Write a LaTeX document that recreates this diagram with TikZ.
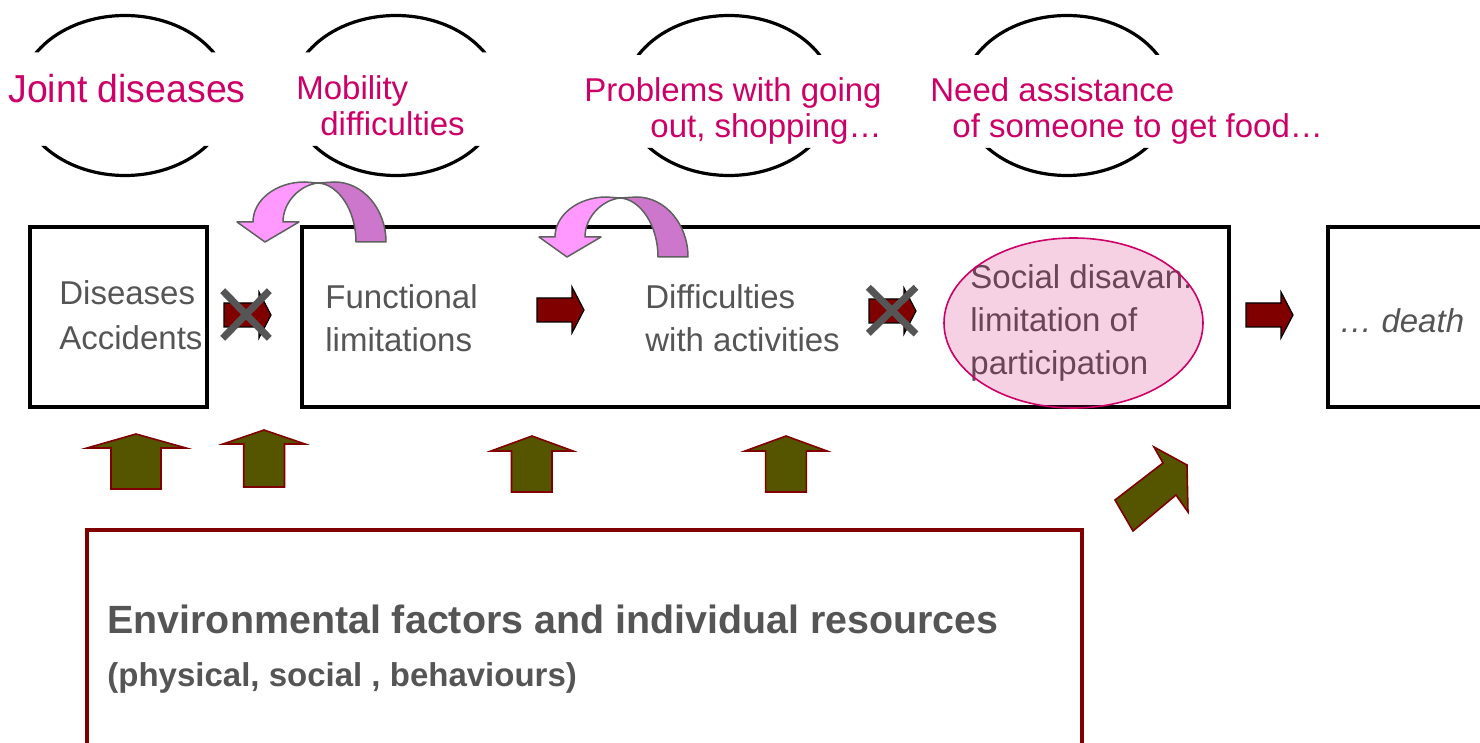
\documentclass[tikz,border=0pt]{standalone}
\usepackage{fontspec}
\setmainfont{Liberation Sans}
\newfontfamily\jointfont[FakeStretch=0.96]{Liberation Sans}
\definecolor{mag}{HTML}{CC0066}
\definecolor{txtgray}{HTML}{555555}
\definecolor{darkred}{HTML}{800000}
\definecolor{olivefill}{HTML}{555500}
\definecolor{pinklight}{HTML}{FF99FF}
\definecolor{pinkdark}{HTML}{CC77CC}
\definecolor{edgegray}{HTML}{606060}
\begin{document}
\begin{tikzpicture}[x=0.5pt,y=-0.5pt,
  magtext/.style={text=mag, inner sep=0pt, font=\fontsize{16.5pt}{18pt}\selectfont},
  graytext/.style={text=txtgray, inner sep=0pt, align=left, font=\fontsize{16.5pt}{21.75pt}\selectfont},
  boxline/.style={draw=black, line width=2pt},
  topellipse/.style={draw=black, line width=1.6pt},
  redarrow/.style={fill=darkred, draw=black, line width=0.6pt},
  olivearrow/.style={fill=olivefill, draw=darkred, line width=0.8pt},
  crossline/.style={draw=txtgray, line width=3.5pt},
  curvlight/.style={fill=pinklight, draw=edgegray, line width=0.75pt, line join=round},
  curvdark/.style={fill=pinkdark, draw=edgegray, line width=0.75pt, line join=round}]
\useasboundingbox (0,0) rectangle (1480,743);
\clip (0,0) rectangle (1480,743);

% top ellipses (middle band hidden)
\begin{scope}
  \clip (0,0) rectangle (600,52.5) (0,146) rectangle (600,200);
  \draw[topellipse] (125,95.5) ellipse [x radius=52.5pt, y radius=40pt];
  \draw[topellipse] (396,95.5) ellipse [x radius=52.5pt, y radius=40pt];
\end{scope}
\begin{scope}
  \clip (600,0) rectangle (1480,55) (600,148) rectangle (1480,200);
  \draw[topellipse] (729,95.5) ellipse [x radius=52.5pt, y radius=40pt];
  \draw[topellipse] (1067,95.5) ellipse [x radius=52.5pt, y radius=40pt];
\end{scope}

% magenta labels (multi-line nodes anchored at baseline of last line)
\node[magtext, anchor=base west, font=\jointfont\fontsize{19.5pt}{20pt}\selectfont] (joint) at (8,103) {Joint diseases};
\node[magtext, align=left, anchor=base west] (mobility) at (296,136) {Mobility\\\hspace*{12pt}difficulties};
\node[magtext, align=right, anchor=base east] (problems) at (882,138) {Problems with going\\out, shopping…};
\node[magtext, align=left, anchor=base west] (need) at (930,138) {Need assistance\\\hspace*{11pt}of someone to get food…};

% boxes
\draw[boxline] (29.5,227) rectangle (207,407);
\draw[boxline] (302,227) rectangle (1229,407);
\draw[boxline] (1328,227) rectangle (1520,407);

% gray texts
\node[graytext, anchor=base west, font=\fontsize{16.5pt}{22.5pt}\selectfont] (diseases) at (59,350) {Diseases\\Accidents};
\node[graytext, anchor=base west] (functional) at (325,352) {Functional\\limitations};
\node[graytext, anchor=base west] (difficulties) at (645,352) {Difficulties\\with activities};
\node[graytext, anchor=base west, font=\fontsize{16.5pt}{21.5pt}\selectfont] (social) at (970,375) {Social disavan.\\limitation of\\participation};
\node[graytext, anchor=base west, font=\itshape\fontsize{16.5pt}{20pt}\selectfont] (death) at (1339,333) {… death};

% pink ellipse over participation text
\draw[fill=mag, fill opacity=0.18, draw=mag, line width=0.8pt] (1073.5,323) ellipse [x radius=64.75pt, y radius=42.5pt];

% red block arrows
\foreach \ax/\ay in {224/315, 537/310, 869/311, 1246/315}{
  \draw[redarrow, shift={(\ax,\ay)}] (0,-12) -- (35,-12) -- (35,-23) -- (47,0) -- (35,23) -- (35,12) -- (0,12) -- cycle;
}
% crosses
\draw[crossline] (222.7,290.7) -- (269.3,338.3) (269.3,290.7) -- (222.7,338.3);
\draw[crossline] (868.3,287.3) -- (916,334) (916,287.3) -- (868.3,333.3);

% pink curved arrows
\foreach \sx/\sy in {0/0, 302/15}{
  \begin{scope}[shift={(\sx,\sy)}]
    \draw[curvdark] (318,183) .. controls (338,184) and (356,210) .. (356,242) -- (386,242)
      .. controls (386,209) and (363,182) .. (334.5,182) -- cycle;
    \draw[curvlight] (283,222) -- (299,222) -- (265,242) -- (237,222) -- (253,222)
      .. controls (253,200) and (276,182) .. (304.5,182) -- (318,183)
      .. controls (300,185) and (283,202) .. (283,222) -- cycle;
  \end{scope}
}

% olive arrows
\draw[olivearrow] (136,434) -- (186,448) -- (161,448) -- (161,489) -- (111,489) -- (111,448) -- (87,448) -- cycle;
\draw[olivearrow] (264,430) -- (305,444) -- (284.5,444) -- (284.5,487) -- (243.7,487) -- (243.7,444) -- (223,444) -- cycle;
\draw[olivearrow] (532,436) -- (573,451) -- (552,451) -- (552,492) -- (511.5,492) -- (511.5,451) -- (491,451) -- cycle;
\draw[olivearrow] (786,436) -- (827,451) -- (806.4,451) -- (806.4,492) -- (765.6,492) -- (765.6,451) -- (745,451) -- cycle;
\draw[olivearrow] (1154,447) -- (1187,465) -- (1188,512) -- (1176,495) -- (1133,531) -- (1115,500) -- (1163,463) -- cycle;

% bottom box
\draw[draw=darkred, line width=2pt] (87,530) rectangle (1082,800);
\node[anchor=base west, inner sep=0pt, text=txtgray, font=\bfseries\fontsize{19.7pt}{22pt}\selectfont] (env) at (107,633) {Environmental factors and individual resources};
\node[anchor=base west, inner sep=0pt, text=txtgray, font=\bfseries\fontsize{16.5pt}{18pt}\selectfont] (envsub) at (107,686) {(physical, social , behaviours)};
\end{tikzpicture}
\end{document}
